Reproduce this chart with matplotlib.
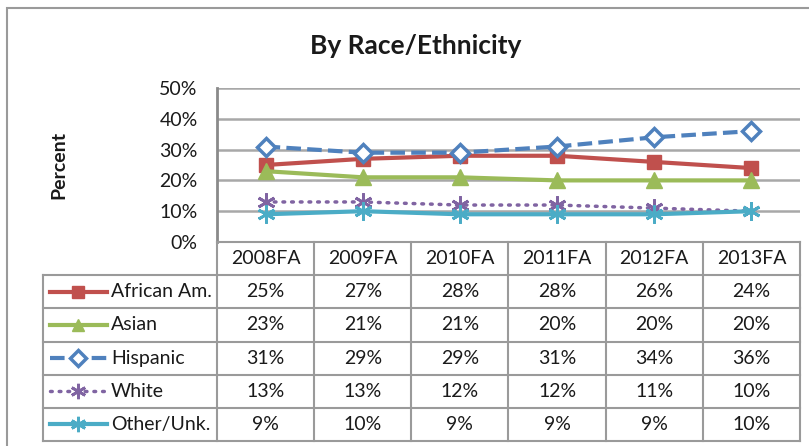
import numpy as np
import matplotlib
matplotlib.use("Agg")
import matplotlib.pyplot as plt
from matplotlib.patches import Rectangle

plt.rcParams["font.family"] = ["Lato", "DejaVu Sans"]

# Data
terms = ["2008FA", "2009FA", "2010FA", "2011FA", "2012FA", "2013FA"]
african_am = [25, 27, 28, 28, 26, 24]
asian = [23, 21, 21, 20, 20, 20]
hispanic = [31, 29, 29, 31, 34, 36]
white = [13, 13, 12, 12, 11, 10]
other = [9, 10, 9, 9, 9, 10]

names = ["African Am.", "Asian", "Hispanic", "White", "Other/Unk."]
values = [african_am, asian, hispanic, white, other]

# line styles per series
styles = [
    dict(color="#C0504D", ls="-", lw=3, marker="s", ms=10, mfc="#C0504D", mec="#C0504D", mew=1),
    dict(color="#9BBB59", ls="-", lw=3, marker="^", ms=11, mfc="#9BBB59", mec="#9BBB59", mew=1),
    dict(color="#4F81BD", ls=(0, (3.5, 1.5)), lw=3, marker="D", ms=9, mfc="white", mec="#4F81BD", mew=2.5),
    dict(color="#8064A2", ls=(0, (0.5, 2)), lw=2.5, marker=(6, 2, 0), ms=13, mfc="#8064A2", mec="#8064A2", mew=2, dash_capstyle="round"),
    dict(color="#4BACC6", ls="-", lw=3, marker=(6, 2, 0), ms=13, mfc="#4BACC6", mec="#4BACC6", mew=2),
]

W, H = 809, 446
fig = plt.figure(figsize=(W / 100, H / 100), dpi=100)


def px_box(left, top, right, bottom):
    return [left / W, 1 - bottom / H, (right - left) / W, (bottom - top) / H]


grid_c = "#a8a8a8"
text_c = "#1a1a1a"

# outer frame
fig.add_artist(Rectangle((7 / W, -0.1), 1.2, 1 - 8 / H + 0.1, transform=fig.transFigure,
                         fill=False, edgecolor="#9a9a9a", lw=1.5))

# main plot
ax = fig.add_axes(px_box(217, 88, 800, 242))
x = np.arange(len(terms))
for v, st in zip(values, styles):
    ax.plot(x, v, clip_on=False, zorder=3, **st)
ax.set_xlim(-0.5, len(terms) - 0.5)
ax.set_ylim(0, 50)
ax.set_yticks(np.arange(0, 51, 10))
ax.set_yticklabels([f"{t}%" for t in range(0, 51, 10)], fontsize=14, color=text_c)
ax.set_xticks([])
ax.tick_params(axis="y", length=0, pad=14)
ax.grid(axis="y", color=grid_c, lw=1.8)
ax.set_axisbelow(True)
for s in ["top", "right", "bottom"]:
    ax.spines[s].set_visible(False)
ax.spines["left"].set_color("#8a8a8a")
ax.spines["left"].set_linewidth(2)
ax.set_ylabel("Percent", fontsize=14, fontweight="bold", color=text_c, labelpad=66)

fig.text(416 / W, 1 - 46 / H, "By Race/Ethnicity", fontsize=19, fontweight="bold",
         ha="center", va="center", color=text_c)

# data table below the plot
tab = fig.add_axes(px_box(43, 242, 800, 441))
colw = (800 - 217) / len(terms)
lab_w = (217 - 43) / colw
x0 = -0.5 - lab_w
tab.set_xlim(x0, len(terms) - 0.5)
tab.set_ylim(len(names) + 1, 0)
tab.axis("off")

line_c = "#9a9a9a"
tab.plot([-0.5, len(terms) - 0.5], [0, 0], color=line_c, lw=1.5, clip_on=False)
for r in range(1, len(names) + 2):
    tab.plot([x0, len(terms) - 0.5], [r, r], color=line_c, lw=1.5, clip_on=False)
for c in range(len(terms) + 1):
    tab.plot([c - 0.5, c - 0.5], [0, len(names) + 1], color=line_c, lw=1.5, clip_on=False)
tab.plot([x0, x0], [1, len(names) + 1], color=line_c, lw=1.5, clip_on=False)

for c, t in enumerate(terms):
    tab.text(c, 0.5, t, ha="center", va="center", fontsize=14, color=text_c)

for r, (nm, v, st) in enumerate(zip(names, values, styles), start=1):
    ky = r + 0.5
    k0, k1, km = x0 + 7 / colw, x0 + 64 / colw, x0 + 35 / colw
    extra = {"dash_capstyle": "round"} if "dash_capstyle" in st else {}
    tab.plot([k0, k1], [ky, ky], color=st["color"], ls=st["ls"], lw=st["lw"], **extra)
    tab.plot([km], [ky], ls="none", marker=st["marker"], ms=st["ms"] * 0.85,
             mfc=st["mfc"], mec=st["mec"], mew=st["mew"])
    tab.text(x0 + 68 / colw, ky, nm, ha="left", va="center", fontsize=14, color=text_c)
    for c, val in enumerate(v):
        tab.text(c, ky, f"{val}%", ha="center", va="center", fontsize=14, color=text_c)

fig.savefig("out.png", dpi=100)
